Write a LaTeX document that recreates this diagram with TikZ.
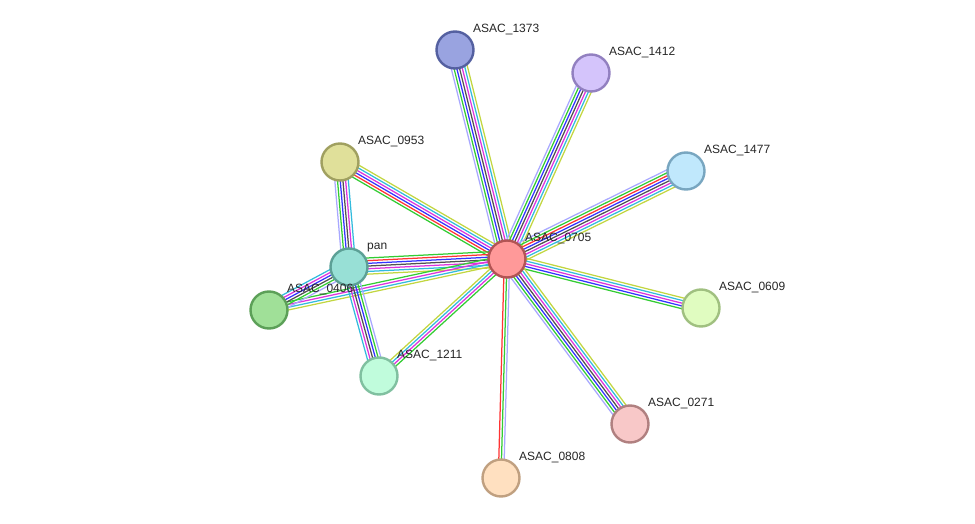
\documentclass[tikz,border=0pt]{standalone}
\usepackage{fontspec}
\setmainfont{Liberation Sans}
\usetikzlibrary{calc}
\pgfdeclarelayer{background}
\pgfsetlayers{background,main}
\definecolor{cLav}{HTML}{A8A8FF}
\definecolor{cGrn}{HTML}{33CC33}
\definecolor{cRed}{HTML}{FF3333}
\definecolor{cBlu}{HTML}{3333FF}
\definecolor{cBlk}{HTML}{505050}
\definecolor{cMag}{HTML}{DD33DD}
\definecolor{cCya}{HTML}{33BBDD}
\definecolor{cYel}{HTML}{C2D640}
\tikzset{
  prot/.style={circle, minimum size=37pt, inner sep=0pt, line width=2.4pt},
  lbl/.style={font=\fontsize{12}{14}\selectfont, text=black!85, inner sep=0pt, anchor=base west},
  evline/.style={line width=1.25pt},
}
\newcommand{\sedge}[3]{%
  \foreach \c [count=\i] in {#3} {\xdef\ncol{\i}}%
  \foreach \c [count=\i] in {#3} {%
    \pgfmathsetmacro\off{(\i-(\ncol+1)/2)*2.7}%
    \draw[evline, draw=\c] ($(#1.center)!\off pt!90:(#2.center)$) -- ($(#2.center)!\off pt!-90:(#1.center)$);
  }}
\begin{document}
\begin{tikzpicture}[x=1pt,y=-1pt]
\useasboundingbox (0,0) rectangle (975,524);
\node[prot, fill={rgb,255:red,255;green,153;blue,153}, draw={rgb,255:red,178;green,84;blue,84}] (n0705) at (507,259) {};
\node[prot, fill={rgb,255:red,153;green,163;blue,224}, draw={rgb,255:red,84;green,96;blue,160}] (n1373) at (455,50) {};
\node[prot, fill={rgb,255:red,212;green,196;blue,251}, draw={rgb,255:red,146;green,128;blue,192}] (n1412) at (591,73) {};
\node[prot, fill={rgb,255:red,192;green,232;blue,252}, draw={rgb,255:red,120;green,166;blue,192}] (n1477) at (686,171) {};
\node[prot, fill={rgb,255:red,224;green,224;blue,154}, draw={rgb,255:red,160;green,160;blue,96}] (n0953) at (340,162) {};
\node[prot, fill={rgb,255:red,152;green,224;blue,214}, draw={rgb,255:red,92;green,160;blue,150}] (npan) at (349,267) {};
\node[prot, fill={rgb,255:red,160;green,224;blue,152}, draw={rgb,255:red,92;green,160;blue,88}] (n0406) at (269,310) {};
\node[prot, fill={rgb,255:red,224;green,252;blue,192}, draw={rgb,255:red,160;green,192;blue,128}] (n0609) at (701,308) {};
\node[prot, fill={rgb,255:red,192;green,252;blue,220}, draw={rgb,255:red,128;green,192;blue,160}] (n1211) at (379,376) {};
\node[prot, fill={rgb,255:red,248;green,200;blue,200}, draw={rgb,255:red,176;green,128;blue,128}] (n0271) at (630,424) {};
\node[prot, fill={rgb,255:red,255;green,224;blue,192}, draw={rgb,255:red,192;green,160;blue,128}] (n0808) at (501,478) {};
\node[lbl] (l0705) at ($(n0705.center)+(18,-17.5)$) {ASAC\_0705};
\node[lbl] (l1373) at ($(n1373.center)+(18,-17.5)$) {ASAC\_1373};
\node[lbl] (l1412) at ($(n1412.center)+(18,-17.5)$) {ASAC\_1412};
\node[lbl] (l1477) at ($(n1477.center)+(18,-17.5)$) {ASAC\_1477};
\node[lbl] (l0953) at ($(n0953.center)+(18,-17.5)$) {ASAC\_0953};
\node[lbl] (lpan) at ($(npan.center)+(18,-17.5)$) {pan};
\node[lbl] (l0406) at ($(n0406.center)+(18,-17.5)$) {ASAC\_0406};
\node[lbl] (l0609) at ($(n0609.center)+(18,-17.5)$) {ASAC\_0609};
\node[lbl] (l1211) at ($(n1211.center)+(18,-17.5)$) {ASAC\_1211};
\node[lbl] (l0271) at ($(n0271.center)+(18,-17.5)$) {ASAC\_0271};
\node[lbl] (l0808) at ($(n0808.center)+(18,-17.5)$) {ASAC\_0808};
\begin{pgfonlayer}{background}
\sedge{n1373}{n0705}{cLav,cGrn,cBlu,cBlk,cMag,cCya,cYel}
\sedge{n0705}{n1412}{cYel,cCya,cMag,cBlk,cBlu,cGrn,cLav}
\sedge{n0705}{n1477}{cYel,cCya,cMag,cBlk,cBlu,cRed,cGrn,cLav}
\sedge{n0705}{n0609}{cGrn,cBlu,cMag,cCya,cYel}
\sedge{n0705}{n0271}{cLav,cGrn,cBlu,cBlk,cMag,cCya,cYel}
\sedge{n0705}{n0808}{cRed,cGrn,cLav}
\sedge{n0705}{n1211}{cYel,cCya,cMag,cGrn}
\sedge{n0953}{n0705}{cGrn,cRed,cBlu,cMag,cCya,cYel}
\sedge{npan}{n0705}{cYel,cCya,cMag,cBlk,cBlu,cRed,cGrn}
\sedge{n0406}{n0705}{cYel,cCya,cMag,cGrn}
\sedge{n0953}{npan}{cLav,cGrn,cBlu,cBlk,cMag,cCya}
\sedge{n0406}{npan}{cLav,cGrn,cBlk,cBlu,cMag,cCya}
\sedge{npan}{n1211}{cCya,cMag,cBlk,cBlu,cGrn,cLav}
\end{pgfonlayer}
\end{tikzpicture}
\end{document}
